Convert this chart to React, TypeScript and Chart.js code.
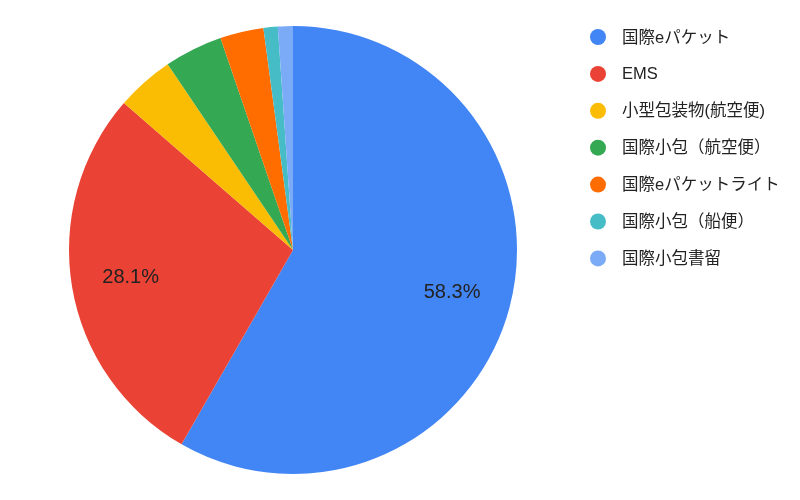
import React, { useEffect, useRef } from "react";
import { Chart, registerables } from "chart.js";

Chart.register(...registerables);

const categories = [
  "国際eパケット",
  "EMS",
  "小型包装物(航空便)",
  "国際小包（航空便）",
  "国際eパケットライト",
  "国際小包（船便）",
  "国際小包書留",
];
const shares = [58.3, 28.1, 4.17, 4.2, 3.14, 1.03, 1.08];
const colors = ["#4285F4", "#EA4335", "#FBBC04", "#34A853", "#FF6D01", "#46BDC6", "#7BAAF7"];

const FONT = "'Liberation Sans', Arial, 'Noto Sans CJK JP', sans-serif";

const sliceLabels = {
  id: "sliceLabels",
  afterDatasetsDraw(chart: any) {
    const ctx = chart.ctx;
    const meta = chart.getDatasetMeta(0);
    const data = chart.data.datasets[0].data as number[];
    const total = data.reduce((a, b) => a + b, 0);
    ctx.save();
    ctx.font = `20px ${FONT}`;
    ctx.fillStyle = "#222222";
    ctx.textAlign = "center";
    ctx.textBaseline = "middle";
    meta.data.forEach((arc: any, i: number) => {
      const pct = (data[i] / total) * 100;
      if (pct < 10) return;
      const p = arc.getProps(["startAngle", "endAngle", "outerRadius", "x", "y"], true);
      const mid = (p.startAngle + p.endAngle) / 2;
      const r = p.outerRadius * 0.735;
      ctx.fillText(pct.toFixed(1) + "%", p.x + Math.cos(mid) * r, p.y + Math.sin(mid) * r);
    });
    ctx.restore();
  },
};

const sideLegend = {
  id: "sideLegend",
  afterDraw(chart: any) {
    const ctx = chart.ctx;
    ctx.save();
    ctx.font = `16.5px ${FONT}`;
    ctx.textBaseline = "middle";
    ctx.textAlign = "left";
    categories.forEach((name, i) => {
      const y = 37 + i * 36.9;
      ctx.beginPath();
      ctx.fillStyle = colors[i];
      ctx.arc(598, y, 8, 0, Math.PI * 2);
      ctx.fill();
      ctx.fillStyle = "#222222";
      ctx.fillText(name, 622, y + 1);
    });
    ctx.restore();
  },
};

export default function App() {
  const ref = useRef<HTMLCanvasElement>(null);
  useEffect(() => {
    if (!ref.current) return;
    const chart = new Chart(ref.current, {
      type: "pie",
      data: {
        labels: categories,
        datasets: [
          {
            data: shares,
            backgroundColor: colors,
            borderWidth: 0,
          },
        ],
      },
      options: {
        animation: false,
        responsive: false,
        layout: { padding: { left: 69, right: 283, top: 26, bottom: 26 } },
        plugins: {
          legend: { display: false },
          tooltip: { enabled: false },
        },
      },
      plugins: [sliceLabels, sideLegend],
    });
    return () => chart.destroy();
  }, []);
  return (
    <div style={{ position: "fixed", left: 0, top: 0, width: 800, height: 500, background: "#fff" }}>
      <canvas ref={ref} width={800} height={500} style={{ width: 800, height: 500 }} />
    </div>
  );
}
